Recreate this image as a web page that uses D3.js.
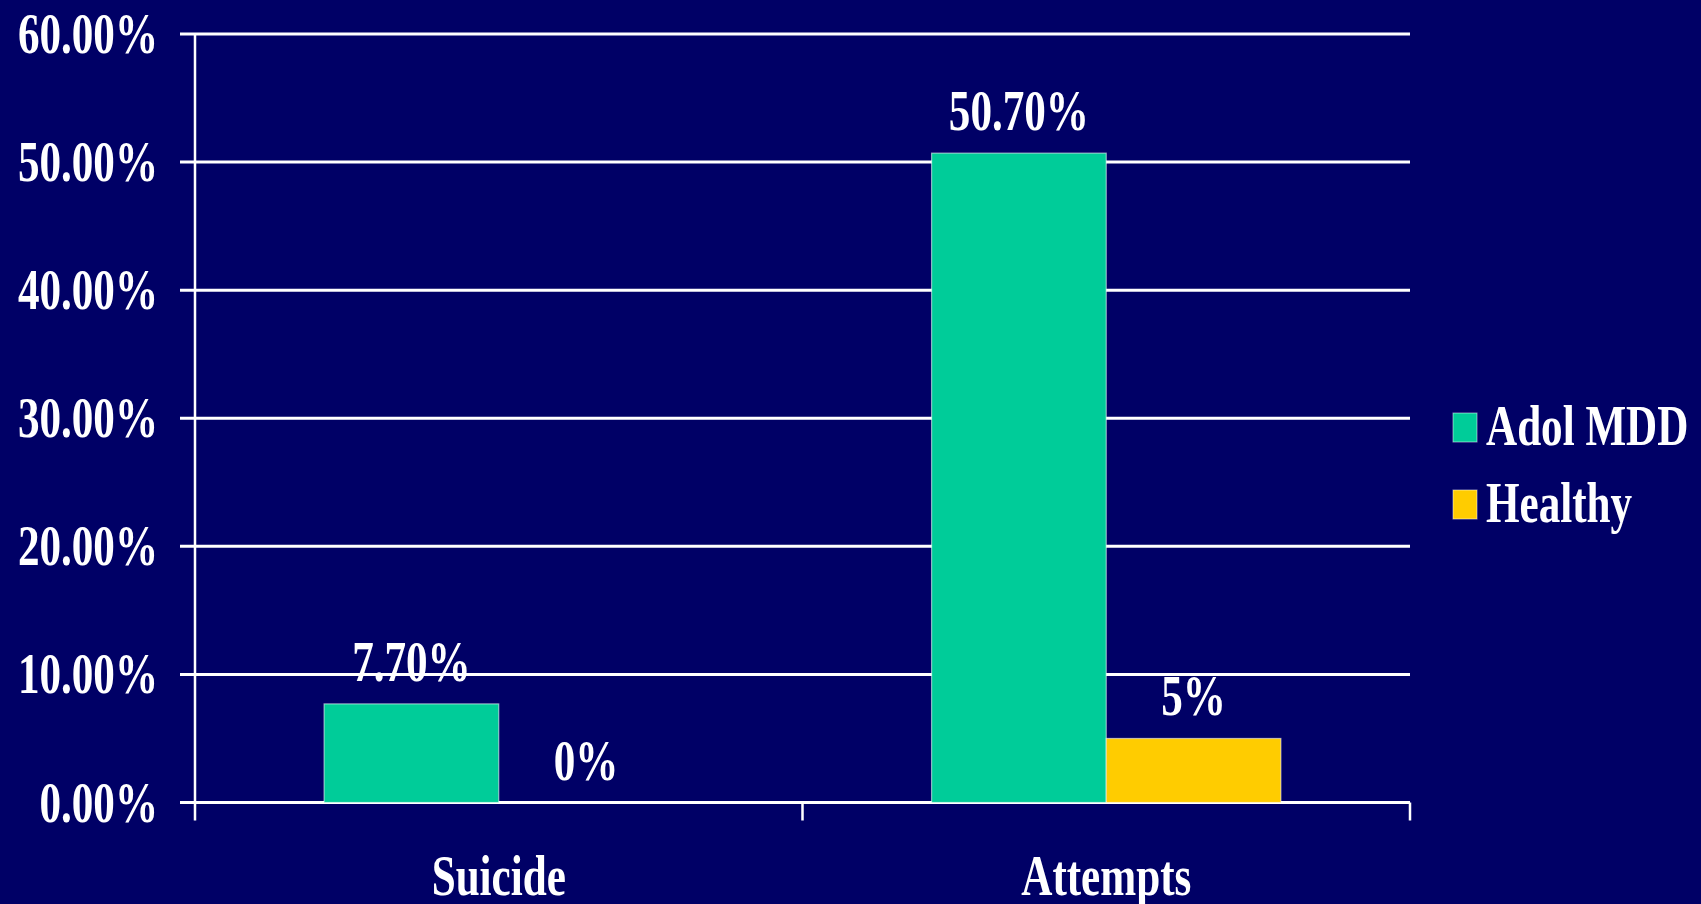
<!DOCTYPE html>
<html>
<head>
<meta charset="utf-8">
<script src="https://cdn.jsdelivr.net/npm/d3@7/dist/d3.min.js"></script>
<style>
  html, body { margin: 0; padding: 0; background: #000066; }
  svg { display: block; }
  text { font-family: "Liberation Serif", "Times New Roman", serif; font-weight: bold; fill: #ffffff; }
</style>
</head>
<body>
<svg id="chart" width="1701" height="904"></svg>
<script>
// Data
const categories = ["Suicide", "Attempts"];
const seriesNames = ["Adol MDD", "Healthy"];
const adolMDD = [7.7, 50.7];
const healthy = [0, 5];
const adolLabels = ["7.70%", "50.70%"];
const healthyLabels = ["0%", "5%"];
const yTicks = [0, 10, 20, 30, 40, 50, 60];
const seriesColors = ["#00CC99", "#FFCC00"];

const W = 1701, H = 904;
const plot = { left: 195, right: 1410, top: 34, bottom: 802.5 };
const FONT = 56, SX = 0.77;

const svg = d3.select("#chart");
svg.append("rect").attr("width", W).attr("height", H).attr("fill", "#000066");

const y = d3.scaleLinear().domain([0, 60]).range([plot.bottom, plot.top]);
const x0 = d3.scaleBand().domain(categories).range([plot.left, plot.right]).paddingInner(0).paddingOuter(0);
const x1 = d3.scaleBand().domain(seriesNames).range([0, x0.bandwidth()]).paddingInner(0).paddingOuter(0.739);

// horizontally condensed label helper
function label(g, x, yPos, txt, anchor) {
  return g.append("text")
    .attr("transform", `translate(${x},${yPos}) scale(${SX},1)`)
    .attr("text-anchor", anchor)
    .attr("font-size", FONT)
    .text(txt);
}

// gridlines with tick stubs to the left of the axis
const grid = svg.append("g");
grid.selectAll("line").data(yTicks).join("line")
  .attr("x1", plot.left - 15).attr("x2", plot.right)
  .attr("y1", d => y(d)).attr("y2", d => y(d))
  .attr("stroke", "#ffffff").attr("stroke-width", 3);

// value axis line
svg.append("line")
  .attr("x1", plot.left).attr("x2", plot.left)
  .attr("y1", y(60)).attr("y2", plot.bottom + 18)
  .attr("stroke", "#ffffff").attr("stroke-width", 2.5);

// category tick marks between and at the end of bands
const catTicks = [x0(categories[1]), plot.right];
svg.append("g").selectAll("line").data(catTicks).join("line")
  .attr("x1", d => d).attr("x2", d => d)
  .attr("y1", plot.bottom).attr("y2", plot.bottom + 18)
  .attr("stroke", "#ffffff").attr("stroke-width", 2.5);

// y tick labels
const yLab = svg.append("g");
yTicks.forEach(t => label(yLab, 158, y(t) + 19, d3.format(".2f")(t) + "%", "end"));

// bars
const series = [
  { name: seriesNames[0], values: adolMDD, labels: adolLabels, color: seriesColors[0] },
  { name: seriesNames[1], values: healthy, labels: healthyLabels, color: seriesColors[1] }
];
const bars = svg.append("g");
series.forEach(s => {
  categories.forEach((c, i) => {
    const bx = x0(c) + x1(s.name);
    const v = s.values[i];
    if (v > 0) {
      bars.append("rect")
        .attr("x", bx).attr("y", y(v))
        .attr("width", x1.bandwidth()).attr("height", y(0) - y(v))
        .attr("fill", s.color)
        .attr("stroke", "rgba(255,255,255,0.55)").attr("stroke-width", 1.2);
    }
    label(bars, bx + x1.bandwidth() / 2, y(v) - 23, s.labels[i], "middle");
  });
});

// category labels
const xLab = svg.append("g");
categories.forEach(c => label(xLab, x0(c) + x0.bandwidth() / 2, 895, c, "middle"));

// legend
const legend = svg.append("g");
seriesNames.forEach((n, i) => {
  const ly = 445 + i * 77;
  legend.append("rect")
    .attr("x", 1453).attr("y", ly - 32)
    .attr("width", 24).attr("height", 29)
    .attr("fill", seriesColors[i])
    .attr("stroke", "rgba(255,255,255,0.5)").attr("stroke-width", 1);
  label(legend, 1486, ly, n, "start");
});
</script>
</body>
</html>
